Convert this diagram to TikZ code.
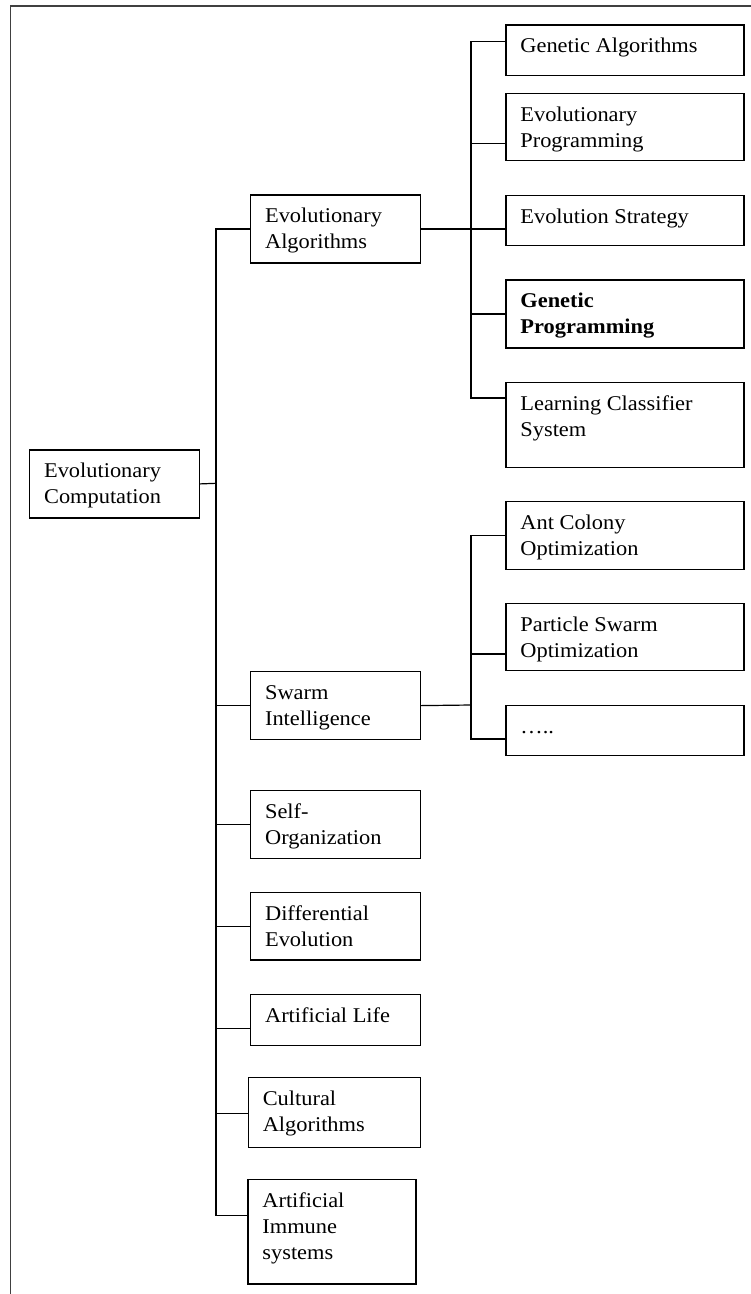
\documentclass[tikz,border=0pt]{standalone}
\usepackage{fontspec}
\setmainfont{Liberation Serif}[FakeStretch=1.066]
% fixed-size cell: width, height (pt), text set from the top-left corner
\newcommand{\cellbox}[3]{\parbox[c][#2pt][t]{#1pt}{\raggedright\leftskip=14.5pt\fontsize{21}{26}\selectfont\rule{0pt}{28pt}#3}}
\begin{document}
\begin{tikzpicture}[x=1pt,y=-1pt,
  cell/.style={draw, line width=1.2pt, inner sep=0pt, anchor=north west},
  link/.style={line width=1.2pt},
  frameline/.style={line width=1.6pt, black!75}]
\useasboundingbox (0,0) rectangle (751,1294);
% outer frame
\draw[frameline] (751,6) -- (10.5,6) -- (10.5,1294);

% root and first level
\node[cell] (ec)  at (29,449.3)    {\cellbox{170}{68}{Evolutionary\\Computation}};
\node[cell] (ea)  at (250,194.3)   {\cellbox{170}{68}{Evolutionary\\Algorithms}};
\node[cell] (si)  at (250,671)     {\cellbox{170}{68}{Swarm\\Intelligence}};
\node[cell] (so)  at (250,789.7)   {\cellbox{170}{68}{Self-\\Organization}};
\node[cell] (de)  at (250,891.7)   {\cellbox{170}{67.6}{Differential\\Evolution}};
\node[cell] (al)  at (250,993.7)   {\cellbox{170}{51}{Artificial Life}};
\node[cell] (ca)  at (247.7,1076.7){\cellbox{172.3}{70}{Cultural\\Algorithms}};
\node[cell] (ai)  at (247.3,1179)  {\cellbox{168}{104.3}{Artificial\\Immune\\systems}};

% evolutionary algorithms
\node[cell] (ga)  at (505.3,24.3)  {\cellbox{238}{50.4}{Genetic Algorithms}};
\node[cell] (ep)  at (505.3,92.7)  {\cellbox{238}{67.3}{Evolutionary\\Programming}};
\node[cell] (es)  at (505.3,195)   {\cellbox{238}{50}{Evolution Strategy}};
\node[cell] (gp)  at (505.3,279.3) {\cellbox{238}{68}{\textbf{Genetic\\Programming}}};
\node[cell] (lcs) at (505.3,381.7) {\cellbox{238}{85}{Learning Classifier\\System}};

% swarm intelligence
\node[cell] (aco) at (505.3,500.7) {\cellbox{238}{68}{Ant Colony\\Optimization}};
\node[cell] (pso) at (505.3,602.7) {\cellbox{238}{67.3}{Particle Swarm\\Optimization}};
\node[cell] (etc) at (505.3,705)   {\cellbox{238}{50}{…..}};

% junctions
\coordinate (jt) at (216,483.3);
\coordinate (ja) at (471,228.3);
\coordinate (js) at (471,705);

% root trunk
\draw[link] (ec.east) -- (jt);
\draw[link] (jt) |- (ea.west);
\draw[link] (jt) |- (si.west);
\draw[link] (jt) |- (so.west);
\draw[link] (jt) |- (de.west);
\draw[link] (jt) |- ([yshift=-8.5pt]al.west);
\draw[link] (jt) |- ([yshift=-1pt]ca.west);
\draw[link] (jt) |- ([yshift=16pt]ai.west);

% evolutionary algorithms branch
\draw[link] (ea.east) -- (ea.east -| es.west);
\draw[link] (ja) |- ([yshift=8.5pt]ga.west);
\draw[link] (ja) |- ([yshift=-16.4pt]ep.west);
\draw[link] (ja) |- (gp.west);
\draw[link] (ja) |- ([yshift=26.9pt]lcs.west);

% swarm intelligence branch
\draw[link] (si.east) -- (js);
\draw[link] (js) |- (aco.west);
\draw[link] (js) |- ([yshift=-17pt]pso.west);
\draw[link] (js) |- ([yshift=-8.3pt]etc.west);
\end{tikzpicture}
\end{document}
